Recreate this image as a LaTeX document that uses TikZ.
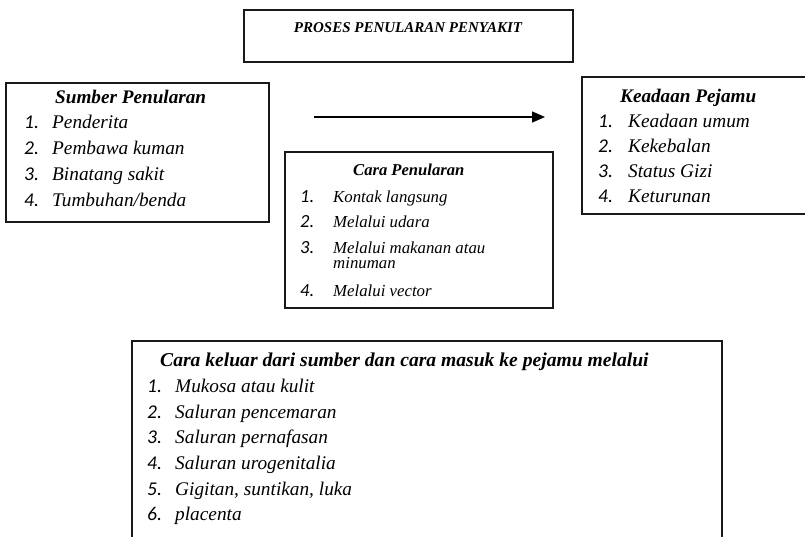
\documentclass[tikz,border=0pt]{standalone}
\usepackage{fontspec}
\setmainfont{Liberation Serif}
\newfontfamily\numfont{Carlito}
\usetikzlibrary{arrows.meta}
\tikzset{
  boxst/.style={draw=black!90, line width=1.6pt, anchor=north west, inner sep=0pt, outer sep=0pt},
  ttl/.style={anchor=base west, inner sep=0pt, font=\bfseries\itshape\fontsize{19.2}{19.2}\selectfont},
  itm/.style={anchor=base west, inner sep=0pt, font=\itshape\fontsize{19.3}{19.3}\selectfont},
  num/.style={anchor=base west, inner sep=0pt, font=\numfont\itshape\fontsize{19.5}{19.5}\selectfont},
  sttl/.style={anchor=base west, inner sep=0pt, font=\bfseries\itshape\fontsize{16.6}{16.6}\selectfont},
  sitm/.style={anchor=base west, inner sep=0pt, font=\itshape\fontsize{16.8}{16.8}\selectfont},
  snum/.style={anchor=base west, inner sep=0pt, font=\numfont\itshape\fontsize{18.5}{18.5}\selectfont},
}
\begin{document}
\begin{tikzpicture}[x=1pt,y=-1pt]
\useasboundingbox (0,0) rectangle (805,537);
% boxes
\node[boxst, minimum width=329pt, minimum height=52pt] (judulbox) at (244,10) {};
\node[boxst, minimum width=263pt, minimum height=139pt] (sumberbox) at (6,83) {};
\node[boxst, minimum width=268pt, minimum height=156pt] (carabox) at (285,152) {};
\node[boxst, minimum width=240pt, minimum height=137pt] (keadaanbox) at (582,77) {};
\node[boxst, minimum width=590pt, minimum height=220pt] (keluarbox) at (132,341) {};
% title
\node[anchor=base, inner sep=0pt, font=\bfseries\itshape\fontsize{15}{15}\selectfont] (judul) at (408,33) {PROSES PENULARAN PENYAKIT};
% arrow
\coordinate (a1) at (314,117);
\coordinate (a2) at (545,117);
\draw[-{Triangle[length=13pt,width=11pt]}, line width=1.5pt] (a1) -- (a2);
% Sumber Penularan
\node[ttl] (s0) at (55,104) {Sumber Penularan};
\node[num] (sn1) at (24,129) {1.};
\node[itm] (s1) at (52,129) {Penderita};
\node[num] (sn2) at (24,155) {2.};
\node[itm] (s2) at (52,155) {Pembawa kuman};
\node[num] (sn3) at (24,181) {3.};
\node[itm] (s3) at (52,181) {Binatang sakit};
\node[num] (sn4) at (24,207) {4.};
\node[itm] (s4) at (52,207) {Tumbuhan/benda};
% Cara Penularan
\node[sttl] (c0) at (353,176) {Cara Penularan};
\node[snum] (cn1) at (300,203) {1.};
\node[sitm] (c1) at (333,203) {Kontak langsung};
\node[snum] (cn2) at (300,228) {2.};
\node[sitm] (c2) at (333,228) {Melalui udara};
\node[snum] (cn3) at (300,253) {3.};
\node[sitm] (c3) at (333,253) {Melalui makanan atau};
\node[sitm] (c3b) at (333,269) {minuman};
\node[snum] (cn4) at (300,296) {4.};
\node[sitm] (c4) at (333,296) {Melalui vector};
% Keadaan Pejamu
\node[ttl] (k0) at (620,103) {Keadaan Pejamu};
\node[num] (kn1) at (598,128) {1.};
\node[itm] (k1) at (628,128) {Keadaan umum};
\node[num] (kn2) at (598,153) {2.};
\node[itm] (k2) at (628,153) {Kekebalan};
\node[num] (kn3) at (598,178) {3.};
\node[itm] (k3) at (628,178) {Status Gizi};
\node[num] (kn4) at (598,203) {4.};
\node[itm] (k4) at (628,203) {Keturunan};
% Cara keluar
\node[ttl, font=\bfseries\itshape\fontsize{19.6}{19.6}\selectfont] (m0) at (160,366) {Cara keluar dari sumber dan cara masuk ke pejamu melalui};
\node[num] (mn1) at (147,392) {1.};
\node[itm] (m1) at (175,392) {Mukosa atau kulit};
\node[num] (mn2) at (147,418) {2.};
\node[itm] (m2) at (175,418) {Saluran pencemaran};
\node[num] (mn3) at (147,443) {3.};
\node[itm] (m3) at (175,443) {Saluran pernafasan};
\node[num] (mn4) at (147,469) {4.};
\node[itm] (m4) at (175,469) {Saluran urogenitalia};
\node[num] (mn5) at (147,495) {5.};
\node[itm] (m5) at (175,495) {Gigitan, suntikan, luka};
\node[num] (mn6) at (147,520) {6.};
\node[itm] (m6) at (175,520) {placenta};
\end{tikzpicture}
\end{document}
